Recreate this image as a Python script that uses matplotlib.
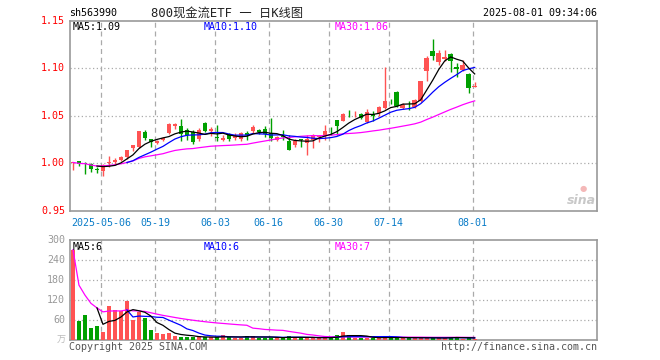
import matplotlib
matplotlib.use("Agg")
import matplotlib.pyplot as plt
import numpy as np
import pandas as pd

# ---------------- data ----------------
opens = [1.000, 1.002, 1.000, 0.999, 0.994, 0.992, 1.000, 1.001, 1.004, 1.007,
         1.016, 1.017, 1.0325, 1.0255, 1.021, 1.0245, 1.032, 1.039, 1.0388, 1.0353,
         1.033, 1.0255, 1.042, 1.034, 1.027, 1.0245, 1.031, 1.027, 1.0255, 1.032,
         1.0343, 1.0346, 1.0364, 1.032, 1.0248, 1.029, 1.023, 1.0196, 1.025, 1.0213,
         1.0248, 1.0276, 1.030, 1.034, 1.0455, 1.045, 1.053, 1.0525, 1.052, 1.043,
         1.052, 1.0528, 1.058, 1.0652, 1.0748, 1.058, 1.0605, 1.0587, 1.065, 1.0965,
         1.1175, 1.106, 1.1098, 1.1147, 1.1017, 1.098, 1.0937, 1.080]
closes = [1.001, 0.999, 0.999, 0.994, 0.993, 0.998, 1.001, 1.0035, 1.007, 1.014,
          1.019, 1.034, 1.0266, 1.022, 1.024, 1.027, 1.041, 1.041, 1.031, 1.0294,
          1.0224, 1.0353, 1.034, 1.0363, 1.0265, 1.0266, 1.0255, 1.029, 1.032, 1.0294,
          1.038, 1.033, 1.031, 1.0266, 1.0276, 1.028, 1.0143, 1.0238, 1.0245, 1.0255,
          1.030, 1.029, 1.0343, 1.0335, 1.0395, 1.0517, 1.0525, 1.053, 1.0475, 1.0535,
          1.050, 1.0587, 1.0657, 1.065, 1.0598, 1.0615, 1.0598, 1.0668, 1.086, 1.111,
          1.113, 1.1157, 1.112, 1.107, 1.099, 1.1035, 1.079, 1.081]
highs = [1.001, 1.003, 1.001, 1.000, 0.996, 0.999, 1.008, 1.0055, 1.008, 1.014,
         1.019, 1.034, 1.035, 1.026, 1.025, 1.028, 1.042, 1.042, 1.047, 1.037,
         1.035, 1.037, 1.043, 1.038, 1.0405, 1.030, 1.032, 1.032, 1.033, 1.034,
         1.040, 1.0364, 1.039, 1.048, 1.029, 1.035, 1.030, 1.0255, 1.0255, 1.030,
         1.0308, 1.030, 1.0405, 1.0378, 1.0458, 1.053, 1.0556, 1.055, 1.053, 1.057,
         1.0545, 1.0605, 1.101, 1.068, 1.0755, 1.0633, 1.065, 1.0678, 1.0867, 1.113,
         1.131, 1.119, 1.119, 1.116, 1.105, 1.1087, 1.0948, 1.0853]
lows = [0.993, 0.997, 0.989, 0.991, 0.990, 0.987, 0.996, 0.998, 1.003, 1.005,
        1.013, 1.016, 1.0245, 1.017, 1.020, 1.023, 1.031, 1.036, 1.023, 1.025,
        1.020, 1.023, 1.033, 1.029, 1.0238, 1.023, 1.024, 1.025, 1.024, 1.025,
        1.032, 1.031, 1.028, 1.024, 1.023, 1.025, 1.0136, 1.017, 1.017, 1.009,
        1.016, 1.022, 1.025, 1.030, 1.030, 1.044, 1.049, 1.049, 1.0465, 1.042,
        1.045, 1.0493, 1.0573, 1.0622, 1.0587, 1.0573, 1.0563, 1.058, 1.064, 1.086,
        1.109, 1.103, 1.107, 1.096, 1.091, 1.097, 1.0738, 1.0797]
volumes = [272, 58, 75, 36, 42, 25, 102, 90, 87, 118,
           60, 85, 67, 30, 21, 18, 21, 13, 10, 10,
           10, 8, 8, 8, 8, 15, 8, 7, 7, 12,
           12, 7, 7, 7, 7, 7, 12, 7, 7, 7,
           7, 7, 7, 7, 14, 24, 14, 7, 7, 7,
           7, 7, 8, 7, 7, 7, 7, 7, 6, 6,
           6, 6, 6, 9, 10, 4, 5, 3]

tick_index = [5, 14, 24, 33, 43, 53, 67]
tick_labels = ["2025-05-06", "05-19", "06-03", "06-16", "06-30", "07-14", "08-01"]
price_ticks = [0.95, 1.00, 1.05, 1.10, 1.15]
price_tick_labels = ["0.95", "1.00", "1.05", "1.10", "1.15"]
vol_ticks = [60, 120, 180, 240, 300]
vol_tick_labels = ["60", "120", "180", "240", "300"]
price_ma_labels = ["MA5:1.09", "MA10:1.10", "MA30:1.06"]
vol_ma_labels = ["MA5:6", "MA10:6", "MA30:7"]
code_label = "sh563990"
title_label = "800现金流ETF 一 日K线图"
time_label = "2025-08-01 09:34:06"

# ---------------- style ----------------
RED = "#ff5353"
GREEN = "#00a000"
GRID = "#aaaaaa"
SPINE = "#999999"
MONO = "DejaVu Sans Mono"

W, H = 660, 360
def fx(x): return x / W
def fy(y): return 1 - y / H

fig = plt.figure(figsize=(6.6, 3.6), dpi=100)
fig.patch.set_facecolor("white")

L, R = 69.5, 597
ax = fig.add_axes([fx(L), fy(211), (R - L) / W, (211 - 20.5) / H])
axv = fig.add_axes([fx(L), fy(340), (R - L) / W, (340 - 240.3) / H])

n = len(closes)
x = np.arange(n)
o = np.array(opens); c = np.array(closes); h = np.array(highs); lo = np.array(lows)
up = c >= o
cols = [RED if u else GREEN for u in up]

xmin, xmax = -0.58, 87.4
grid_x = [i - 0.33 for i in tick_index]

# --- price panel ---
ax.vlines(x, lo, h, colors=cols, linewidth=1.0, zorder=3)
body_b = np.minimum(o, c)
body_h = np.maximum(np.abs(c - o), 0.0009)
ax.bar(x, body_h, bottom=body_b, width=0.75, color=cols, linewidth=0, zorder=4)

cs = pd.Series(c)
ma5 = cs.rolling(5).mean()
ma10 = cs.rolling(10).mean()
ma30 = cs.rolling(30, min_periods=1).mean()
ax.plot(x, ma30, color="#ff00ff", lw=0.9, zorder=5)
ax.plot(x, ma10, color="#0000ff", lw=0.9, zorder=5)
ax.plot(x, ma5, color="black", lw=0.9, zorder=6)

ax.set_xlim(xmin, xmax)
ax.set_ylim(0.95, 1.15)
for yv in price_ticks[1:-1]:
    ax.axhline(yv, color=GRID, lw=0.9, linestyle=(0, (1, 2)), zorder=1)
for gx in grid_x:
    ax.axvline(gx, color=GRID, lw=0.9, linestyle=(0, (4, 3)), zorder=1)
ax.set_xticks([]); ax.set_yticks([])
for s in ax.spines.values():
    s.set_color(SPINE); s.set_linewidth(1.2)

for yv, lab in zip(price_ticks, price_tick_labels):
    ax.text(-0.008, yv, lab, transform=ax.get_yaxis_transform(), ha="right",
            va="center", color="red", fontsize=7.2, family=MONO)
for gx, lab in zip(grid_x, tick_labels):
    ax.text(gx, -0.062, lab, transform=ax.get_xaxis_transform(), ha="center",
            va="center", color="#0a7cc8", fontsize=7.2, family=MONO)

ma_cols = ["black", "#0000ff", "#ff00ff"]
ma_x = [73, 204, 335]
for xx, lab, col in zip(ma_x, price_ma_labels, ma_cols):
    fig.text(fx(xx), fy(27), lab, color=col, fontsize=7.2, family=MONO,
             ha="left", va="center")

# sina watermark
fig.text(fx(581), fy(200), "sina", color="#c8c8c8", fontsize=9, style="italic",
         weight="bold", ha="center", va="center")
fig.text(fx(583), fy(189), "●", color="#f4b8b8", fontsize=6, ha="center", va="center")

# --- volume panel ---
v = np.array(volumes, dtype=float)
axv.bar(x, v, width=0.72, color=cols, linewidth=0, zorder=3)
vs = pd.Series(v)
axv.plot(x, vs.rolling(30, min_periods=1).mean(), color="#ff00ff", lw=0.9, zorder=4)
axv.plot(x, vs.rolling(10).mean(), color="#0000ff", lw=0.9, zorder=4)
axv.plot(x, vs.rolling(5).mean(), color="black", lw=0.9, zorder=5)
axv.set_xlim(xmin, xmax)
axv.set_ylim(0, 300)
for yv in vol_ticks[:-1]:
    axv.axhline(yv, color=GRID, lw=0.9, linestyle=(0, (1, 2)), zorder=1)
for gx in grid_x:
    axv.axvline(gx, color=GRID, lw=0.9, linestyle=(0, (4, 3)), zorder=1)
axv.set_xticks([]); axv.set_yticks([])
for s in axv.spines.values():
    s.set_color(SPINE); s.set_linewidth(1.2)
for yv, lab in zip(vol_ticks, vol_tick_labels):
    axv.text(-0.008, yv, lab, transform=axv.get_yaxis_transform(), ha="right",
             va="center", color="#999999", fontsize=7.2, family=MONO)
axv.text(-0.008, 0, "万", transform=axv.get_yaxis_transform(), ha="right",
         va="center", color="#bbbbbb", fontsize=6.5, family=["Noto Sans CJK SC"])

for xx, lab, col in zip(ma_x, vol_ma_labels, ma_cols):
    fig.text(fx(xx), fy(247), lab, color=col, fontsize=7.2, family=MONO,
             ha="left", va="center")

# --- header / footer ---
fig.text(fx(69), fy(13), code_label, color="black", fontsize=7.2, family=MONO,
         ha="left", va="center")
fig.text(fx(227), fy(13), title_label, color="#222222", fontsize=8.8,
         family=[MONO, "Noto Sans CJK SC"], ha="center", va="center")
fig.text(fx(597), fy(13), time_label, color="black", fontsize=7.2, family=MONO,
         ha="right", va="center")
fig.text(fx(69), fy(347), "Copyright 2025 SINA.COM", color="#555555", fontsize=7.2,
         family=MONO, ha="left", va="center")
fig.text(fx(597), fy(347), "http://finance.sina.com.cn", color="#555555", fontsize=7.2,
         family=MONO, ha="right", va="center")

fig.savefig("out.png", dpi=100)
